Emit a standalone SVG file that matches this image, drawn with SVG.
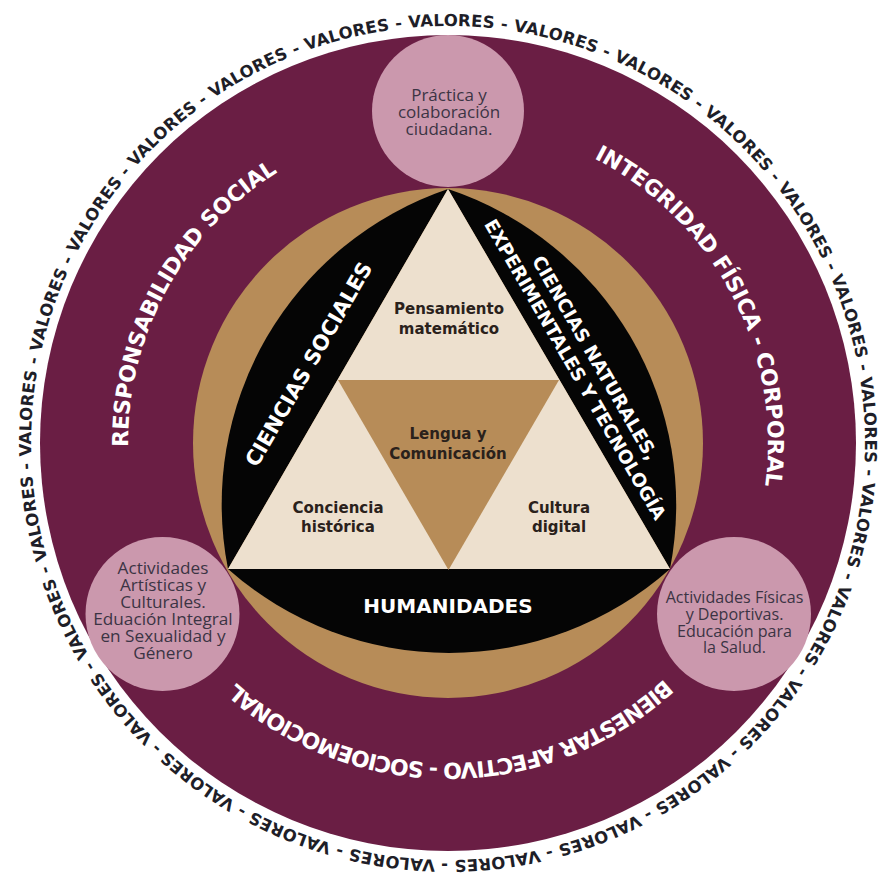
<svg xmlns="http://www.w3.org/2000/svg" xmlns:xlink="http://www.w3.org/1999/xlink" width="879" height="878" viewBox="0 0 879 878">
  <style>
    .maroon { fill: #6a1e44; }
    .tan { fill: #b78c58; }
    .cream { fill: #ede0ce; }
    .pink { fill: #cb98ad; }
    .black { fill: #050505; }
    .ring { font-family: "DejaVu Sans", "Liberation Sans", sans-serif; font-weight: bold; font-size: 16.5px; fill: #1e1e28; white-space: pre; }
    .arcLabel { font-family: "DejaVu Sans", "Liberation Sans", sans-serif; font-weight: bold; font-size: 22px; fill: #ffffff; }
    .side { font-family: "DejaVu Sans", "Liberation Sans", sans-serif; font-weight: bold; fill: #ffffff; text-anchor: middle; }
    .inner { font-family: "DejaVu Sans", "Liberation Sans", sans-serif; font-weight: bold; font-size: 15px; fill: #2a211b; text-anchor: middle; }
    .pinkText { font-family: "Open Sans", "Liberation Sans", sans-serif; fill: #3b3444; text-anchor: middle; }
  </style>
  <defs>
    <path id="labelCircle" d="M448,123 A320,320 0 1 1 448,763 A320,320 0 1 1 448,123"/>
    <path id="valoresCircle" d="M448,26 A417,417 0 1 1 448,860 A417,417 0 1 1 448,26"/>
  </defs>
  <rect x="0" y="0" width="879" height="878" fill="#ffffff"/>

  <g id="valores-ring">
    <text class="ring" xml:space="preserve" transform="rotate(-5.4 448 443)"><textPath xlink:href="#valoresCircle" href="#valoresCircle" startOffset="0" textLength="2619" lengthAdjust="spacing">VALORES - VALORES - VALORES - VALORES - VALORES - VALORES - VALORES - VALORES - VALORES - VALORES - VALORES - VALORES - VALORES - VALORES - VALORES - VALORES - VALORES - VALORES - VALORES - VALORES - VALORES - VALORES - VALORES - VALORES - VALORES - </textPath></text>
  </g>

  <g id="outer-ring">
    <circle class="maroon" cx="448" cy="443" r="408"/>
    <text class="arcLabel" text-anchor="middle"><textPath xlink:href="#labelCircle" href="#labelCircle" startOffset="1667" textLength="327" lengthAdjust="spacing">RESPONSABILIDAD SOCIAL</textPath></text>
    <text class="arcLabel" text-anchor="middle"><textPath xlink:href="#labelCircle" href="#labelCircle" startOffset="348.5" textLength="394" lengthAdjust="spacing">INTEGRIDAD FÍSICA - CORPORAL</textPath></text>
    <text class="arcLabel" text-anchor="middle"><textPath xlink:href="#labelCircle" href="#labelCircle" startOffset="1002" textLength="469" lengthAdjust="spacing">BIENESTAR AFECTIVO - SOCIOEMOCIONAL</textPath></text>
  </g>

  <g id="tan-circle">
    <circle class="tan" cx="448" cy="443" r="255"/>
  </g>

  <g id="ciencias-sociales">
    <path class="black" d="M448,189 A333,333 0 0 0 228,569 Z"/>
    <text class="side" font-size="21" textLength="232" lengthAdjust="spacing" transform="translate(308.5 364) rotate(-60)" x="0" y="7.6">CIENCIAS SOCIALES</text>
  </g>

  <g id="ciencias-naturales">
    <path class="black" d="M448,189 A333,333 0 0 1 670,569 Z"/>
    <text class="side" font-size="18.5" transform="translate(595.3 357.8) rotate(60)" x="0" y="6.7">CIENCIAS NATURALES,</text>
    <text class="side" font-size="18.5" transform="translate(575.4 369.4) rotate(60)" x="0" y="6.7">EXPERIMENTALES Y TECNOLOGÍA</text>
  </g>

  <g id="humanidades">
    <path class="black" d="M228,569 A333,333 0 0 0 670,569 Z"/>
    <text class="side" font-size="20" x="448" y="613.3">HUMANIDADES</text>
  </g>

  <g id="triangulo">
    <polygon class="cream" points="448,189 670,569 228,569"/>
  </g>

  <g id="pensamiento-matematico">
    <text class="inner" x="449" y="314.3">Pensamiento<tspan x="449" dy="19.7">matemático</tspan></text>
  </g>

  <g id="lengua-comunicacion">
    <polygon class="tan" points="338,380 559,380 448.5,570"/>
    <text class="inner" x="448" y="439">Lengua y<tspan x="448" dy="19.5">Comunicación</tspan></text>
  </g>

  <g id="conciencia-historica">
    <text class="inner" x="338" y="512.7">Conciencia<tspan x="338" dy="19.6">histórica</tspan></text>
  </g>

  <g id="cultura-digital">
    <text class="inner" x="559" y="512.7">Cultura<tspan x="559" dy="19.6">digital</tspan></text>
  </g>

  <g id="practica-colaboracion">
    <circle class="pink" cx="448" cy="111" r="76"/>
    <text class="pinkText" font-size="17" x="449" y="100.5">Práctica y<tspan x="449" dy="17">colaboración</tspan><tspan x="449" dy="17">ciudadana.</tspan></text>
  </g>

  <g id="actividades-artisticas">
    <circle class="pink" cx="162.5" cy="614" r="77"/>
    <text class="pinkText" font-size="17.2" x="163" y="574">Actividades<tspan x="163" dy="17">Artísticas y</tspan><tspan x="163" dy="17">Culturales.</tspan><tspan x="163" dy="17">Eduación Integral</tspan><tspan x="163" dy="17">en Sexualidad y</tspan><tspan x="163" dy="17">Género</tspan></text>
  </g>

  <g id="actividades-fisicas">
    <circle class="pink" cx="734" cy="614" r="77"/>
    <text class="pinkText" font-size="16.1" x="734.5" y="603.3">Actividades Físicas<tspan x="734.5" dy="16.7">y Deportivas.</tspan><tspan x="734.5" dy="16.7">Educación para</tspan><tspan x="734.5" dy="16.7">la Salud.</tspan></text>
  </g>

  <g id="connectors"></g>
</svg>
